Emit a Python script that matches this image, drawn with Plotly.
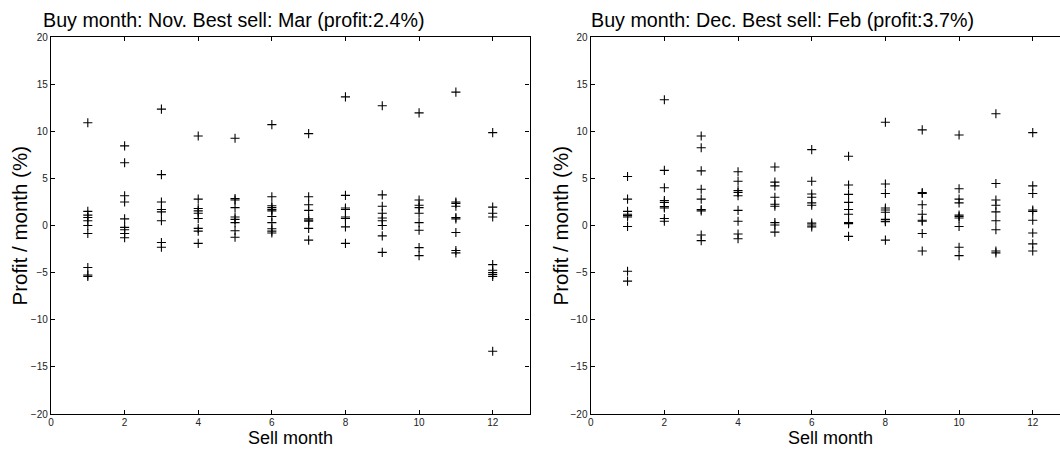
import plotly.graph_objects as go

sell_months = [1, 2, 3, 4, 5, 6, 7, 8, 9, 10, 11, 12]

# Buy in November: profit per month (%) for each sell month
nov_profit = [
    [10.9, 1.5, 1.1, 0.85, 0.5, 0.0, -0.85, -4.45, -5.25, -5.4],
    [8.45, 6.65, 3.15, 2.5, 0.7, -0.2, -0.45, -0.85, -1.3],
    [12.35, 5.4, 2.5, 1.7, 1.45, 0.5, -1.8, -2.3],
    [9.5, 2.8, 1.8, 1.55, 1.3, 0.75, -0.3, -0.6, -1.9],
    [9.25, 2.85, 2.7, 1.9, 0.9, 0.65, 0.3, -0.55, -1.25],
    [10.7, 3.05, 2.1, 1.9, 1.7, 1.55, 0.95, 0.3, -0.35, -0.6, -0.8],
    [9.75, 3.05, 2.2, 1.6, 0.7, 0.55, 0.45, -0.3, -1.55],
    [13.65, 3.2, 1.85, 1.7, 0.9, 0.75, -0.15, -1.9],
    [12.7, 3.25, 2.05, 1.3, 0.8, 0.5, 0.0, -1.1, -2.85],
    [11.95, 2.7, 2.15, 1.9, 1.3, 0.3, -0.5, -2.35, -3.2],
    [14.15, 2.5, 2.35, 2.05, 0.85, 0.7, -0.75, -2.65, -2.9],
    [9.85, 1.95, 1.3, 0.9, -4.15, -4.75, -5.0, -5.2, -5.4, -13.35],
]

# Buy in December: profit per month (%) for each sell month
dec_profit = [
    [5.2, 2.8, 1.5, 1.2, 1.05, 0.9, -0.1, -4.85, -5.9],
    [13.35, 5.85, 4.0, 2.65, 2.45, 2.0, 1.85, 0.75, 0.45],
    [9.5, 8.25, 5.8, 3.85, 2.8, 1.7, 1.55, -1.0, -1.6],
    [5.7, 4.7, 3.7, 3.5, 3.15, 1.6, 0.45, -0.9, -1.4],
    [6.2, 4.6, 4.2, 3.0, 2.25, 2.05, 0.3, 0.05, -0.7],
    [8.05, 4.7, 3.35, 3.0, 2.4, 2.15, 0.25, 0.05, -0.15],
    [7.35, 4.3, 3.3, 2.45, 1.7, 1.2, 0.3, 0.2, -1.15],
    [10.95, 4.4, 3.4, 1.85, 1.65, 1.4, 0.65, 0.45, 0.4, -1.55],
    [10.15, 3.5, 3.4, 2.2, 1.2, 0.55, 0.45, -0.85, -2.7],
    [9.6, 3.9, 2.8, 2.4, 1.1, 0.95, 0.8, -0.1, -2.3, -3.2],
    [11.85, 4.45, 2.7, 2.15, 1.45, 0.5, -0.45, -2.7, -2.9],
    [9.85, 4.2, 3.4, 1.65, 1.5, 0.55, -0.8, -1.95, -2.7],
]

titles = ["Buy month: Nov. Best sell: Mar (profit:2.4%)",
          "Buy month: Dec. Best sell: Feb (profit:3.7%)"]
x_label = "Sell month"
y_label = "Profit / month (%)"
x_ticks = [0, 2, 4, 6, 8, 10, 12]
y_ticks = [-20, -15, -10, -5, 0, 5, 10, 15, 20]


def flatten(groups):
    xs, ys = [], []
    for m, vals in zip(sell_months, groups):
        for v in vals:
            xs.append(m)
            ys.append(v)
    return xs, ys


W, H = 1060, 449
FONT = "Liberation Sans, Arial, Helvetica, sans-serif"

fig = go.Figure()
marker = dict(symbol="cross-thin", size=6.5, color="black",
              line=dict(width=1.1, color="black"))

for i, groups in enumerate([nov_profit, dec_profit]):
    xs, ys = flatten(groups)
    fig.add_trace(go.Scatter(x=xs, y=ys, mode="markers", marker=marker,
                             showlegend=False, hoverinfo="x+y",
                             xaxis="x" if i == 0 else "x2",
                             yaxis="y" if i == 0 else "y2"))

y_dom = [(H - 414) / H, (H - 37) / H]
left_x = [51 / W, 529.5 / W]
right_x = [590.7 / W, 1.0]

axis_common = dict(showgrid=False, zeroline=False, ticks="inside", ticklen=4,
                   tickwidth=1, tickcolor="black", linecolor="black",
                   linewidth=1.4, showline=True, automargin=False,
                   tickfont=dict(family=FONT, size=10, color="#222"))

fig.update_layout(
    width=W, height=H,
    margin=dict(l=0, r=0, t=0, b=0),
    paper_bgcolor="white", plot_bgcolor="white",
    xaxis=dict(domain=left_x, range=[0, 13], tickvals=x_ticks, mirror="ticks",
               anchor="y", ticklabelstandoff=-1, **axis_common),
    yaxis=dict(domain=y_dom, range=[-20, 20], tickvals=y_ticks, mirror="ticks",
               anchor="x", **axis_common),
    xaxis2=dict(domain=right_x, range=[0, 12.74], tickvals=x_ticks, mirror="ticks",
                anchor="y2", ticklabelstandoff=-1, **axis_common),
    yaxis2=dict(domain=y_dom, range=[-20, 20], tickvals=y_ticks, mirror=False,
                anchor="x2", **axis_common),
)

ann = []
# titles
for tx, t in zip([41, 589], titles):
    ann.append(dict(text=t, x=tx / W, y=(H - 20) / H, xref="paper", yref="paper",
                    xanchor="left", yanchor="middle", showarrow=False,
                    font=dict(family=FONT, size=19.7, color="black")))
# x labels
for cx in [(51 + 529.5) / 2, (590.7 + 1069.5) / 2]:
    ann.append(dict(text=x_label, x=cx / W, y=0, xref="paper", yref="paper",
                    xanchor="center", yanchor="bottom", showarrow=False, borderpad=0,
                    font=dict(family=FONT, size=18, color="black")))
# y labels
for cx in [19, 560]:
    ann.append(dict(text=y_label, x=cx / W, y=(H - 225.5) / H, xref="paper", yref="paper",
                    xanchor="center", yanchor="middle", showarrow=False, textangle=-90,
                    font=dict(family=FONT, size=20.5, color="black")))
fig.update_layout(annotations=ann)

fig.write_html("out.html", config={"displayModeBar": False},
               post_script="document.body.style.margin='0px';"
               "document.body.style.overflow='hidden';")
